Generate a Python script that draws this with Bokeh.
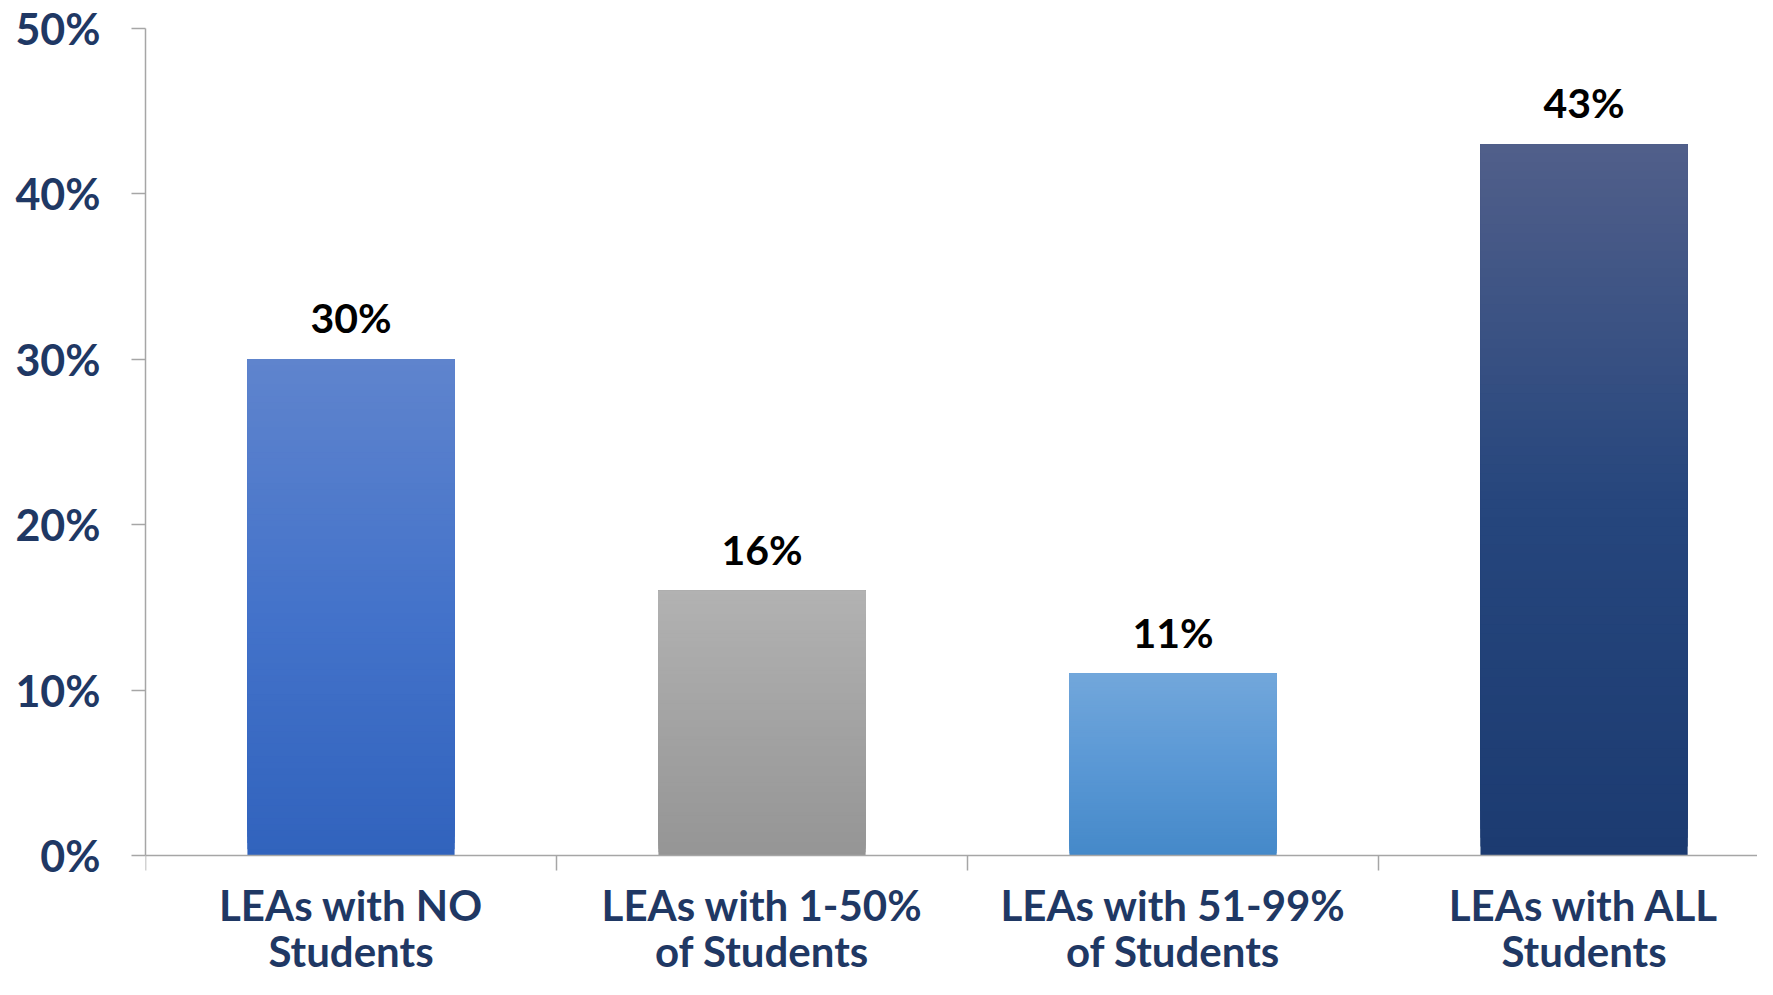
from bokeh.plotting import figure
from bokeh.models import (ColumnDataSource, Range1d, FixedTicker, NumeralTickFormatter,
                          LabelSet)
from bokeh.core.properties import value
from bokeh.embed import file_html
from bokeh.resources import INLINE

# ---- data ----
categories = ["LEAs with NO\nStudents", "LEAs with 1-50%\nof Students",
              "LEAs with 51-99%\nof Students", "LEAs with ALL\nStudents"]
values = [0.30, 0.16, 0.11, 0.43]
value_labels = ["30%", "16%", "11%", "43%"]
y_ticks = [0.0, 0.1, 0.2, 0.3, 0.4, 0.5]

# ---- styles: gradient stops (bottom, middle, top) per bar ----
bar_stops = [
    ["#3163BD", "#4473CA", "#5F84CD"],
    ["#959595", "#A3A3A3", "#B2B2B2"],
    ["#4589C9", "#5A98D5", "#72A7DB"],
    ["#1C3B71", "#26467D", "#515F8A"],
]
FONT = "Lato"
NAVY = "#1F3864"
AXIS_GRAY = "#A6A6A6"


def hex2rgb(h):
    h = h.lstrip("#")
    return tuple(int(h[i:i + 2], 16) for i in (0, 2, 4))


def interp(stops, t):
    # t in [0,1], bottom->top
    if t <= 0.5:
        a, b, u = hex2rgb(stops[0]), hex2rgb(stops[1]), t / 0.5
    else:
        a, b, u = hex2rgb(stops[1]), hex2rgb(stops[2]), (t - 0.5) / 0.5
    c = tuple(int(round(a[k] + (b[k] - a[k]) * u)) for k in range(3))
    return "#%02x%02x%02x" % c


xs = [i + 0.5 for i in range(len(categories))]

# frame runs to the canvas bottom; the region below 0 holds the category labels
p = figure(width=1757, height=979, output_backend="svg", toolbar_location=None,
           x_range=Range1d(0, 3.922), y_range=Range1d(-0.075, 0.5),
           min_border_left=145, min_border_right=0, min_border_top=28,
           min_border_bottom=0)
p.outline_line_color = None
p.xgrid.visible = False
p.ygrid.visible = False
p.background_fill_color = "white"
p.border_fill_color = "white"

# gradient bars: overlapping slices, each from its level up to the bar top
N = 80
sx, sb, st, sc = [], [], [], []
for x, v, stops in zip(xs, values, bar_stops):
    for i in range(N):
        sx.append(x)
        sb.append(v * i / N)
        st.append(v)
        sc.append(interp(stops, (i + 0.5) / N))
src = ColumnDataSource(dict(x=sx, bottom=sb, top=st, color=sc))
p.vbar(x="x", bottom="bottom", top="top", width=0.504, source=src,
       fill_color="color", line_color=None)

# value labels above bars
lab = ColumnDataSource(dict(x=xs, y=values, text=value_labels))
p.add_layout(LabelSet(x="x", y="y", text="text", source=lab, text_align="center",
                      text_baseline="alphabetic", y_offset=26,
                      text_font=value(FONT), text_font_style="bold",
                      text_font_size="41px", text_color="black"))

# y axis
ya = p.yaxis[0]
ya.bounds = (0, 0.5)
ya.ticker = FixedTicker(ticks=y_ticks)
ya.formatter = NumeralTickFormatter(format="0%")
ya.major_label_text_font = FONT
ya.major_label_text_font_style = "bold"
ya.major_label_text_font_size = "43px"
ya.major_label_text_color = NAVY
ya.major_label_standoff = 31
ya.major_tick_out = 14
ya.major_tick_in = 0
ya.minor_tick_line_color = None
ya.axis_line_color = AXIS_GRAY
ya.axis_line_width = 1.5
ya.major_tick_line_color = AXIS_GRAY
ya.major_tick_line_width = 1.5

# x axis drawn at y = 0: labels at category centres, boundary ticks as minor ticks
xa = p.xaxis[0]
xa.fixed_location = 0
xa.ticker = FixedTicker(ticks=xs, minor_ticks=[0, 1, 2, 3, 4])
xa.major_label_overrides = {x: c for x, c in zip(xs, categories)}
xa.major_label_text_font = FONT
xa.major_label_text_font_style = "bold"
xa.major_label_text_font_size = "42px"
xa.major_label_text_color = NAVY
xa.major_label_text_line_height = 0.92
xa.major_label_standoff = 10
xa.major_tick_out = 0
xa.major_tick_in = 0
xa.major_tick_line_color = None
xa.minor_tick_out = 15
xa.minor_tick_in = 0
xa.minor_tick_line_color = AXIS_GRAY
xa.minor_tick_line_width = 1.5
xa.axis_line_color = AXIS_GRAY
xa.axis_line_width = 1.5

open("out.html", "w").write(file_html(p, INLINE))
